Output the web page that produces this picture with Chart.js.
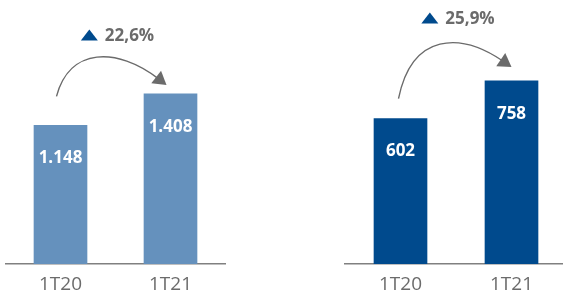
<!DOCTYPE html>
<html>
<head>
<meta charset="utf-8">
<script src="https://cdn.jsdelivr.net/npm/chart.js@4/dist/chart.umd.min.js"></script>
<style>
  html, body { margin: 0; padding: 0; background: #fff; overflow: hidden; width: 563px; height: 291px; }
  .wrap { position: absolute; top: 0; }
</style>
</head>
<body>
<div class="wrap" style="left:0"><canvas id="chartLeft" width="283" height="310"></canvas></div>
<div class="wrap" style="left:283px"><canvas id="chartRight" width="290" height="310"></canvas></div>
<script>
// data
const categories = ['1T20', '1T21'];
const leftValues = [1148, 1408];
const rightValues = [602, 758];
const growthLabels = ['22,6%', '25,9%'];

const grey = '#6b6b6b';
const navy = '#004a8d';

function fmt(v) {
    return String(v).replace(/\B(?=(\d{3})+(?!\d))/g, '.');
}

// white value labels inside the bars
const barLabels = {
    id: 'barLabels',
    afterDatasetsDraw(chart) {
        const ctx = chart.ctx;
        const meta = chart.getDatasetMeta(0);
        const values = chart.data.datasets[0].data;
        ctx.save();
        ctx.fillStyle = '#fff';
        ctx.font = 'bold 17px "Open Sans"';
        ctx.textAlign = 'center';
        ctx.textBaseline = 'middle';
        meta.data.forEach((bar, i) => {
            ctx.fillText(fmt(values[i]), bar.x, bar.y + 33);
        });
        ctx.restore();
    }
};

// curved arrow + growth label between the two bars
const growthArrow = {
    id: 'growthArrow',
    afterDatasetsDraw(chart, args, opts) {
        const ctx = chart.ctx;
        const bars = chart.getDatasetMeta(0).data;
        const b0 = bars[0], b1 = bars[1];
        const x0 = b0.x + opts.startDx, y0 = b0.y - opts.startDy;
        const x3 = b1.x + opts.endDx, y3 = b1.y - opts.endDy;
        const peak = b1.y - opts.peakDy;
        const c = (peak - 0.125 * (y0 + y3)) / 0.75;
        const dx = x3 - x0;
        const x1 = x0 + 0.12 * dx, x2 = x0 + 0.55 * dx;

        // arrow head direction from last control point
        const ang = Math.atan2(y3 - c, x3 - x2);
        const headLen = 13, headW = 8;
        const bx = x3 - Math.cos(ang) * headLen * 0.8;
        const by = y3 - Math.sin(ang) * headLen * 0.8;

        ctx.save();
        ctx.strokeStyle = grey;
        ctx.lineWidth = 1.4;
        ctx.beginPath();
        ctx.moveTo(x0, y0);
        ctx.bezierCurveTo(x1, c, x2, c, bx, by);
        ctx.stroke();

        ctx.fillStyle = grey;
        ctx.beginPath();
        ctx.moveTo(x3, y3);
        ctx.lineTo(x3 - Math.cos(ang) * headLen - Math.sin(ang) * headW,
                   y3 - Math.sin(ang) * headLen + Math.cos(ang) * headW);
        ctx.lineTo(x3 - Math.cos(ang) * headLen + Math.sin(ang) * headW,
                   y3 - Math.sin(ang) * headLen - Math.cos(ang) * headW);
        ctx.closePath();
        ctx.fill();

        // triangle + percentage
        ctx.font = 'bold 17px "Open Sans"';
        const tw = ctx.measureText(opts.text).width;
        const triW = 17, triH = 11, gap = 7;
        const groupW = triW + gap + tw;
        const cx = (b0.x + b1.x) / 2 + 2;
        const ty = b1.y - opts.textDy;
        const left = cx - groupW / 2;
        ctx.fillStyle = navy;
        ctx.beginPath();
        ctx.moveTo(left, ty + triH / 2);
        ctx.lineTo(left + triW, ty + triH / 2);
        ctx.lineTo(left + triW / 2, ty - triH / 2);
        ctx.closePath();
        ctx.fill();
        ctx.fillStyle = grey;
        ctx.textAlign = 'left';
        ctx.textBaseline = 'middle';
        ctx.fillText(opts.text, left + triW + gap, ty + 1);
        ctx.restore();
    }
};

function makeChart(id, values, color, yMax, pad, arrowOpts) {
    const ctx = document.getElementById(id).getContext('2d');
    return new Chart(ctx, {
        type: 'bar',
        data: {
            labels: categories,
            datasets: [{
                data: values,
                backgroundColor: color,
                barThickness: 53
            }]
        },
        options: {
            responsive: false,
            animation: false,
            events: [],
            layout: { padding: pad },
            plugins: {
                legend: { display: false },
                tooltip: { enabled: false },
                growthArrow: arrowOpts
            },
            scales: {
                x: {
                    grid: { display: false, drawTicks: false },
                    border: { display: true, color: '#808080', width: 1.5 },
                    ticks: {
                        color: grey,
                        padding: 9,
                        font: { family: '"Open Sans"', size: 19 }
                    }
                },
                y: { display: false, min: 0, max: yMax }
            }
        },
        plugins: [barLabels, growthArrow]
    });
}

makeChart('chartLeft', leftValues, '#6591bd', 2020,
    { top: 20, bottom: 5.2, left: 5.5, right: 57.5 },
    { text: growthLabels[0], startDx: -4, startDy: 29, endDx: -4, endDy: 9, peakDy: 36, textDy: 59 });

makeChart('chartRight', rightValues, navy, 1010,
    { top: 20, bottom: 5.2, left: 62, right: 6 },
    { text: growthLabels[1], startDx: -2, startDy: 20, endDx: 0, endDy: 14, peakDy: 36, textDy: 63 });
</script>
</body>
</html>
